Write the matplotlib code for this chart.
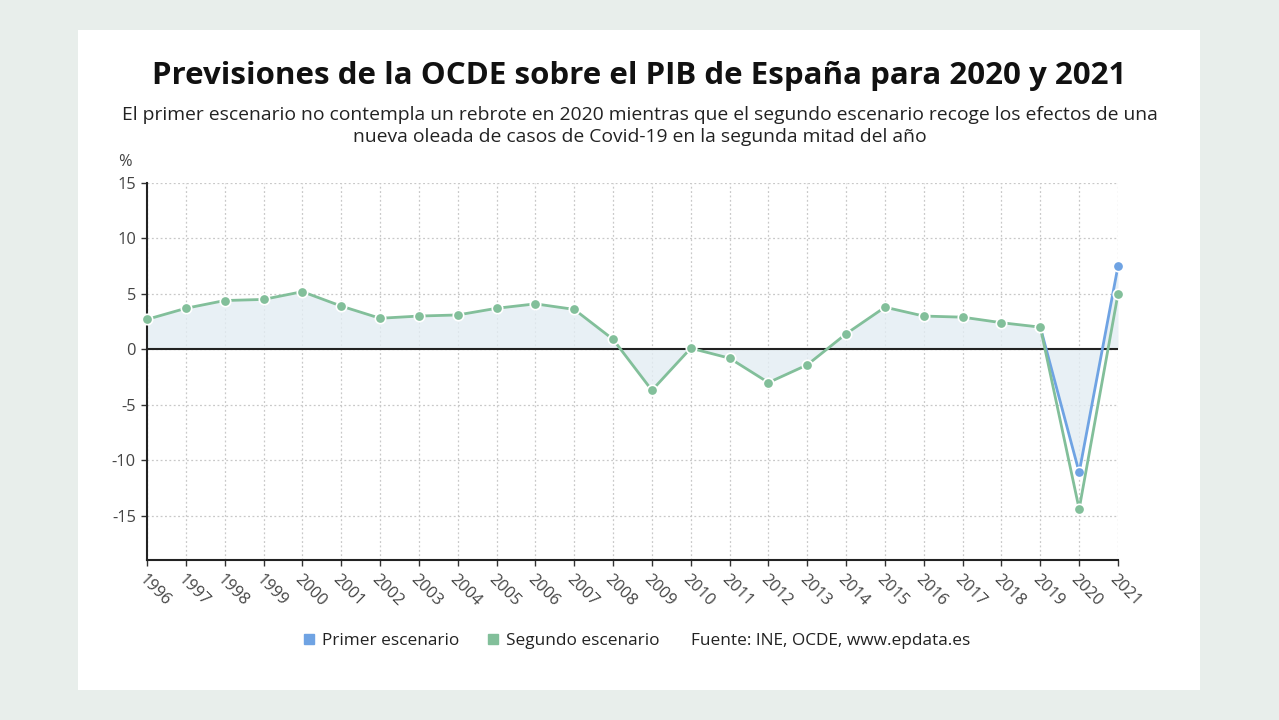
import matplotlib
matplotlib.use('Agg')
import matplotlib.pyplot as plt
from matplotlib.patches import Rectangle
from matplotlib.lines import Line2D
import numpy as np

plt.rcParams['font.family'] = ['Open Sans', 'DejaVu Sans']
plt.rcParams['axes.unicode_minus'] = False

years = list(range(1996, 2022))
segundo = [2.7, 3.7, 4.4, 4.5, 5.2, 3.9, 2.8, 3.0, 3.1, 3.7, 4.1, 3.6, 0.9, -3.7,
           0.1, -0.8, -3.0, -1.4, 1.4, 3.8, 3.0, 2.9, 2.4, 2.0, -14.4, 5.0]
primer_years = [2019, 2020, 2021]
primer = [2.0, -11.1, 7.5]
yticks = [15, 10, 5, 0, -5, -10, -15]

green = '#82bf9a'
blue = '#6fa3e3'
fill_c = '#e3edf3'

fig = plt.figure(figsize=(12.79, 7.2), dpi=100)
fig.patch.set_facecolor('#e8eeeb')
fig.patches.append(Rectangle((78/1279, 1-690/720), (1200-78)/1279, (690-30)/720,
                             transform=fig.transFigure, facecolor='white', edgecolor='none', zorder=-5))

ax = fig.add_axes([147/1279, 1-560/720, (1118-147)/1279, (560-183)/720])
ax.set_zorder(2)
ax.set_facecolor('none')

# sombreado hasta el cero
ax.fill_between(years[:24], segundo[:24], 0, color=fill_c, alpha=0.8, lw=0, zorder=1)
ax.fill_between(primer_years, primer, 0, color=fill_c, alpha=0.8, lw=0, zorder=1)

ax.axhline(0, color='#222222', lw=1.5, zorder=2)
ax.plot(years, segundo, color=green, lw=2, marker='o', ms=7.5, mfc=green, mec='white', mew=1.2, zorder=4, clip_on=False)
ax.plot(primer_years, primer, color=blue, lw=2, marker='o', ms=7.5, mfc=blue, mec='white', mew=1.2, zorder=3, clip_on=False)

ax.set_xlim(1996, 2021)
ax.set_ylim(-19, 15)
ax.set_yticks(yticks)
ax.set_xticks(years)
ax.set_xticklabels([str(y) for y in years], rotation=-45, ha='left', va='top', rotation_mode='anchor')
ax.tick_params(axis='x', labelsize=11.8, colors='#333333', length=4, width=1, pad=4)
ax.tick_params(axis='y', labelsize=11.8, colors='#333333', length=4, width=1, pad=4)
for lab in ax.get_xticklabels() + ax.get_yticklabels():
    lab.set_color('#444444')
ax.grid(True, color='#c8c8c8', ls=(0, (1.5, 2)), lw=0.9)
ax.set_axisbelow(True)
for s in ['top', 'right']:
    ax.spines[s].set_visible(False)
ax.spines['left'].set_linestyle((0, (1, 1)))
ax.spines['left'].set_linewidth(1.5)
ax.spines['left'].set_color('#222222')
ax.spines['bottom'].set_linewidth(1.5)
ax.spines['bottom'].set_color('#222222')

fig.text(125/1279, 1-162/720, '%', fontsize=11.8, color='#444444', ha='center', va='center')

fig.text(0.5, 1-76/720, 'Previsiones de la OCDE sobre el PIB de España para 2020 y 2021',
         fontsize=22.5, fontweight='bold', ha='center', va='center', color='#111111')
fig.text(0.5, 1-126/720, 'El primer escenario no contempla un rebrote en 2020 mientras que el segundo escenario recoge los efectos de una\nnueva oleada de casos de Covid-19 en la segunda mitad del año',
         fontsize=13.9, ha='center', va='center', color='#222222', linespacing=1.3)

handles = [Line2D([], [], marker='s', ls='none', color=blue, ms=7),
           Line2D([], [], marker='s', ls='none', color=green, ms=7)]
fig.legend(handles, ['Primer escenario', 'Segundo escenario'], ncol=2, frameon=False,
           loc='center right', bbox_to_anchor=(675/1279, 1-641/720), fontsize=12.4,
           handlelength=0.6, handletextpad=0.45, columnspacing=1.65, labelcolor='#222222')
fig.text(691/1279, 1-641/720, 'Fuente: INE, OCDE, www.epdata.es', fontsize=12.4,
         ha='left', va='center', color='#222222')

fig.savefig('out.png', dpi=100, facecolor=fig.get_facecolor())
